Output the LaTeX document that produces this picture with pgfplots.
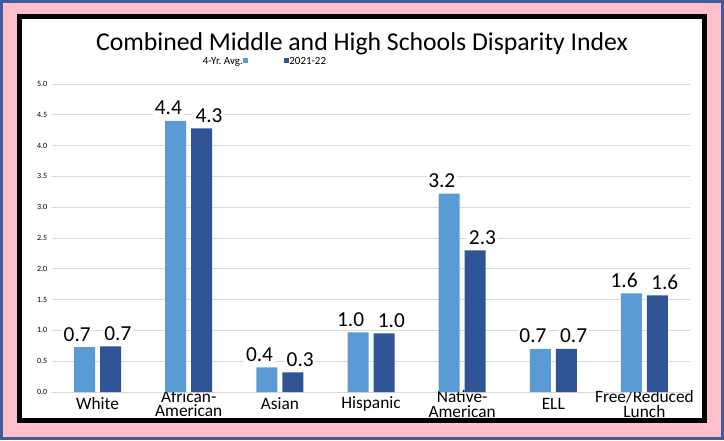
\documentclass[border=0pt]{standalone}
\usepackage{pgfplots}
\pgfplotsset{compat=1.18}
\usepackage{fontspec}
\setmainfont{Carlito}
\frenchspacing
\definecolor{lightbar}{HTML}{5B9BD5}
\definecolor{darkbar}{HTML}{2F5597}
\definecolor{pinkbg}{HTML}{FFC0CB}
\definecolor{frameblue}{HTML}{3F5E9E}
\definecolor{gridgray}{HTML}{D9D9D9}
\begin{document}
\begin{tikzpicture}
\begin{scope}[x=0.75pt,y=-0.75pt,xshift=-39pt,yshift=294pt]
\path[use as bounding box] (0,0) rectangle (724,440);
\fill[pinkbg] (0,0) rectangle (724,440);
\draw[frameblue,line width=2.25pt] (1.5,1.5) rectangle (722.5,438.5);
\draw[black,line width=3.75pt,fill=white] (19.5,16.5) rectangle (704.5,420.5);
\node[font=\fontsize{19.3}{21}\selectfont] at (362,44) {Combined Middle and High Schools Disparity Index};
\end{scope}
\begin{axis}[
  scale only axis, width=478.5pt, height=231pt,
  at={(0,0)}, anchor=south west,
  ymin=0, ymax=5, xmin=-0.5, xmax=6.5,
  ybar=3.75pt, bar width=15.75pt,
  axis line style={draw=none},
  major tick length=0pt,
  /pgf/number format/assume math mode=true,
  ytick={0,0.5,...,5},
  yticklabel style={font=\fontsize{6}{7}\selectfont, /pgf/number format/.cd, fixed, fixed zerofill, precision=1},
  ymajorgrids, grid style={gridgray, line width=0.75pt},
  xtick={0,...,6},
  xticklabels={White,{African-\\American},Asian,Hispanic,{Native-\\American},ELL,{Free/Reduced\\Lunch}},
  xticklabel style={font=\fontsize{13}{10.6}\selectfont, align=center, anchor=center, yshift=-9pt},
  nodes near coords,
  nodes near coords style={font=\fontsize{16}{18}\selectfont, text=black, fill=white, inner sep=1.2pt, yshift=3pt, /pgf/number format/fixed, /pgf/number format/fixed zerofill, /pgf/number format/precision=1},
  legend style={at={(0.333,1.071)}, anchor=center, draw=none, fill=none, font=\fontsize{8.2}{10}\selectfont, legend columns=3, /tikz/every even column/.style={column sep=0pt}, inner sep=0pt, nodes={inner sep=0.5pt}},
  legend entries={4-Yr.\ Avg.,\hspace*{26pt},2021-22},
]
\addlegendimage{empty legend}
\addplot[fill=lightbar, draw=none, nodes near coords style={/tikz/xshift=-5.5pt}, legend image code/.code={\fill[lightbar] (0pt,-0.5pt) rectangle (3.5pt,3pt);}] coordinates {(0,0.73) (1,4.40) (2,0.40) (3,0.97) (4,3.22) (5,0.70) (6,1.60)};
\addplot[fill=darkbar, draw=none, nodes near coords style={/tikz/xshift=5.5pt}, legend image code/.code={\fill[darkbar] (0pt,-0.5pt) rectangle (3.5pt,3pt);}] coordinates {(0,0.74) (1,4.28) (2,0.32) (3,0.95) (4,2.30) (5,0.70) (6,1.57)};
\end{axis}
\end{tikzpicture}
\end{document}
